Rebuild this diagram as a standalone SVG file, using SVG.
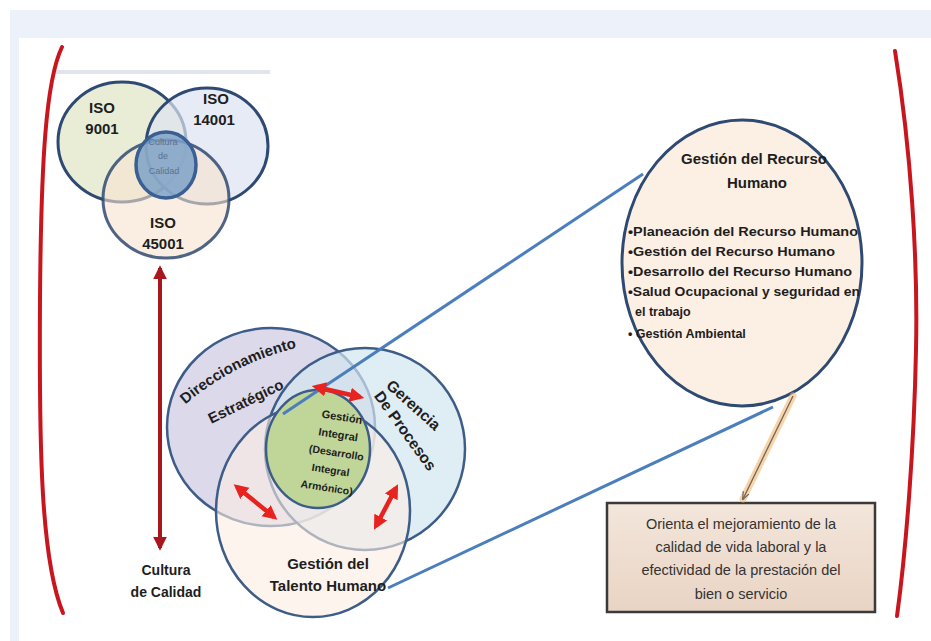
<svg xmlns="http://www.w3.org/2000/svg" width="931" height="641" viewBox="0 0 931 641">
<style>
.lbl{font-family:"Liberation Sans",Arial,sans-serif;font-weight:bold;fill:#1e1e1e;text-anchor:middle}
.ven{stroke:#2f4a72;stroke-width:3}
.ven2{stroke:#3d5d88;stroke-width:2.5}
.bracket{fill:none;stroke:#c8161e;stroke-width:4;stroke-linecap:round}
.zoomln{stroke:#4a7ebc;stroke-width:3;fill:none}
.rarrow{stroke:#e8231f;stroke-width:4.5;fill:none;marker-start:url(#ra);marker-end:url(#ra)}
.list{font-family:"Liberation Sans",Arial,sans-serif;font-weight:bold;font-size:12.5px;fill:#1e1e1e}
.box{font-family:"Liberation Sans",Arial,sans-serif;font-size:14.5px;fill:#333333;text-anchor:middle}
</style>
<defs>
<marker id="ra" viewBox="0 0 10 10" refX="7" refY="5" markerWidth="3.2" markerHeight="3.6" orient="auto-start-reverse" markerUnits="strokeWidth">
<path d="M0,0 L10,5 L0,10 Z" fill="#e8231f"/>
</marker>
<marker id="da" viewBox="0 0 10 10" refX="8" refY="5" markerWidth="3.4" markerHeight="3.6" orient="auto-start-reverse" markerUnits="strokeWidth">
<path d="M0,0 L10,5 L0,10 Z" fill="#a8161e"/>
</marker>
<marker id="ga" viewBox="0 0 10 10" refX="9" refY="5" markerWidth="8" markerHeight="8" orient="auto" markerUnits="userSpaceOnUse">
<path d="M0,1 L10,5 L0,9" fill="none" stroke="#6e655e" stroke-width="1.5"/>
</marker>
<linearGradient id="boxg" x1="0" y1="0" x2="0" y2="1">
<stop offset="0" stop-color="#f3e6db"/>
<stop offset="1" stop-color="#e9d4c4"/>
</linearGradient>
</defs>

<!-- background -->
<rect x="0" y="0" width="931" height="641" fill="#ffffff"/>
<rect x="10" y="10" width="921" height="28" fill="#edf1f9"/>
<rect x="10" y="10" width="9" height="631" fill="#edf1f9"/>
<line x1="55" y1="72" x2="270" y2="72" stroke="#e1e4ea" stroke-width="4"/>

<!-- brackets -->
<path class="bracket" d="M62,47 C46,80 41,160 40,300 C39,450 41,560 63,613"/>
<path class="bracket" d="M895,51 C911,150 918,260 916,350 C914,450 906,550 897,616"/>

<!-- top Venn -->
<g id="iso9001">
<ellipse cx="122" cy="142" rx="64" ry="60" fill="#e3e9cc" fill-opacity="0.8" class="ven"/>
<text class="lbl" x="102" y="113" font-size="15">ISO</text>
<text class="lbl" x="102" y="134" font-size="15">9001</text>
</g>
<g id="iso14001">
<ellipse cx="207" cy="146" rx="61" ry="58" fill="#dde3f1" fill-opacity="0.7" class="ven"/>
<text class="lbl" x="216" y="104" font-size="15">ISO</text>
<text class="lbl" x="214" y="125" font-size="15">14001</text>
</g>
<g id="iso45001">
<ellipse cx="166" cy="199" rx="63" ry="59" fill="#f6e2cf" fill-opacity="0.6" class="ven" stroke-opacity="0.85"/>
<text class="lbl" x="163" y="228" font-size="15">ISO</text>
<text class="lbl" x="163" y="249" font-size="15">45001</text>
</g>
<g id="cultura-calidad-core">
<ellipse cx="166" cy="165" rx="30" ry="33" fill="#7ea2c8" fill-opacity="0.85" stroke="#3a5f93" stroke-width="3.5"/>
<text x="163" y="145" font-family="Liberation Sans,Arial,sans-serif" font-size="9" fill="#5c7190" text-anchor="middle">Cultura</text>
<text x="163" y="159" font-family="Liberation Sans,Arial,sans-serif" font-size="9" fill="#5c7190" text-anchor="middle">de</text>
<text x="164" y="174" font-family="Liberation Sans,Arial,sans-serif" font-size="9" fill="#5c7190" text-anchor="middle">Calidad</text>
</g>

<g id="cultura-label">
<text class="lbl" x="166" y="575" font-size="14" fill="#333">Cultura</text>
<text class="lbl" x="166" y="597" font-size="14" fill="#333">de Calidad</text>
</g>

<!-- bottom Venn -->
<g id="direccionamiento">
<ellipse cx="271" cy="427" rx="104" ry="99" fill="#d6d2e8" fill-opacity="0.85" class="ven2"/>
<path id="dirpath" d="M158,432 A260,260 0 0,1 335,342" fill="none"/>
<text class="lbl" font-size="15"><textPath href="#dirpath" startOffset="50%">Direccionamiento</textPath></text>
<text class="lbl" font-size="15" transform="translate(248,406) rotate(-26)">Estratégico</text>
</g>
<g id="gerencia">
<ellipse cx="365" cy="449" rx="100" ry="101" fill="#d2e6ef" fill-opacity="0.7" class="ven2"/>
<text class="lbl" font-size="15.5" transform="translate(410,409) rotate(42)">Gerencia</text>
<text class="lbl" font-size="15.5" transform="translate(401,434) rotate(54)">De Procesos</text>
</g>
<g id="talento">
<ellipse cx="313" cy="511" rx="97" ry="106" fill="#fcece2" fill-opacity="0.6" class="ven2"/>
<text class="lbl" x="328" y="569" font-size="15">Gestión del</text>
<text class="lbl" x="328" y="591" font-size="15">Talento Humano</text>
</g>
<g id="gestion-integral">
<ellipse cx="318" cy="449" rx="52" ry="59" fill="#c0d598" class="ven2"/>
<g transform="rotate(9,334,455)">
<text class="lbl" x="336" y="420" font-size="11">Gestión</text>
<text class="lbl" x="335" y="438" font-size="11">Integral</text>
<text class="lbl" x="336" y="456" font-size="10.5">(Desarrollo</text>
<text class="lbl" x="333" y="474" font-size="10.5">Integral</text>
<text class="lbl" x="332" y="492" font-size="10.5">Armónico)</text>
</g>
</g>

<!-- big circle -->
<g id="recurso-humano">
<ellipse cx="742" cy="263" rx="120" ry="143" fill="#fcefe4" class="ven"/>
<text class="lbl" x="754" y="164" font-size="15">Gestión del Recurso</text>
<text class="lbl" x="757" y="188" font-size="15">Humano</text>
<text class="list" x="628" y="236" textLength="230" lengthAdjust="spacingAndGlyphs">•Planeación del Recurso Humano</text>
<text class="list" x="628" y="256" textLength="207" lengthAdjust="spacingAndGlyphs">•Gestión del Recurso Humano</text>
<text class="list" x="628" y="276" textLength="224" lengthAdjust="spacingAndGlyphs">•Desarrollo del Recurso Humano</text>
<text class="list" x="628" y="296" textLength="232" lengthAdjust="spacingAndGlyphs">•Salud Ocupacional y seguridad en</text>
<text class="list" x="635" y="316">el trabajo</text>
<text class="list" x="628" y="338">• Gestión Ambiental</text>
</g>

<g id="orienta-box">
<rect x="607" y="503" width="268" height="109" fill="url(#boxg)" stroke="#3a3a3a" stroke-width="2.5"/>
<text class="box" x="741" y="529">Orienta el mejoramiento de la</text>
<text class="box" x="741" y="552">calidad de vida  laboral y la</text>
<text class="box" x="741" y="575">efectividad de la prestación del</text>
<text class="box" x="741" y="599">bien o servicio</text>
</g>

<!-- connectors -->
<g id="connectors">
<line class="zoomln" x1="283" y1="414" x2="643" y2="174"/>
<line class="zoomln" x1="388" y1="588" x2="773" y2="407"/>
<line x1="160" y1="268" x2="160" y2="548" stroke="#a8161e" stroke-width="4" marker-start="url(#da)" marker-end="url(#da)"/>
<line x1="316" y1="387" x2="360" y2="397" class="rarrow"/>
<line x1="237" y1="487" x2="274" y2="517" class="rarrow"/>
<line x1="396" y1="488" x2="376" y2="526" class="rarrow"/>
<line x1="793" y1="396" x2="743" y2="499" stroke="#f3b870" stroke-opacity="0.6" stroke-width="7" stroke-linecap="round"/>
<line x1="793" y1="396" x2="743" y2="499" stroke="#6e655e" stroke-width="1.3" marker-end="url(#ga)"/>
</g>
</svg>
